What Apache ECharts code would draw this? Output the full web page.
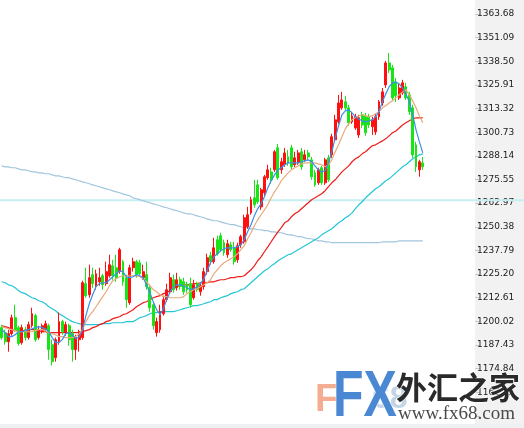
<!DOCTYPE html>
<html>
<head>
<meta charset="utf-8">
<script src="https://cdn.jsdelivr.net/npm/echarts@6/dist/echarts.min.js"></script>
<style>
html, body { margin: 0; padding: 0; background: #fff; }
#chart { width: 524px; height: 428px; }
</style>
</head>
<body>
<div id="chart"></div>
<script>
// price scale labels on the right, top to bottom
const tickLabels = ['1363.68','1351.09','1338.50','1325.91','1313.32','1300.73','1288.14','1275.55',
    '1262.97','1250.38','1237.79','1225.20','1212.61','1200.02','1187.43','1174.84','1162.25'];

// price at the top edge of the window
const scaleMax = 1371.1;

// horizontal price level
const levelPrice = 1264.5;

// candles: [open, close, low, high]
const ohlc = [
    [1196.7,1191.4,1190.3,1198.3],[1194.0,1189.2,1187.6,1195.6],[1189.2,1193.5,1183.9,1195.6],[1193.5,1202.0,1192.4,1203.6],
    [1202.0,1195.6,1194.5,1208.9],[1196.7,1188.2,1187.1,1197.7],[1188.7,1196.7,1187.6,1198.3],[1195.6,1191.4,1189.8,1197.2],
    [1191.4,1198.3,1190.3,1199.9],[1197.7,1204.1,1196.7,1207.3],[1203.1,1190.3,1189.2,1204.1],[1191.4,1195.6,1190.3,1197.7],
    [1194.5,1197.7,1193.5,1198.8],[1195.6,1198.8,1194.5,1200.4],[1197.7,1185.0,1179.6,1198.8],[1187.6,1178.6,1176.5,1190.3],
    [1180.7,1190.3,1178.6,1191.4],[1189.2,1199.9,1187.6,1204.7],[1199.9,1194.5,1192.9,1200.9],[1194.0,1198.3,1192.4,1199.9],
    [1197.7,1190.3,1187.1,1198.8],[1193.5,1185.0,1178.6,1195.6],[1185.0,1191.4,1179.6,1192.9],[1190.3,1194.5,1183.9,1195.6],
    [1191.4,1220.6,1190.3,1221.7],[1220.1,1213.7,1212.6,1228.6],[1214.2,1223.3,1212.6,1230.2],[1224.9,1220.1,1217.9,1228.6],
    [1219.0,1225.4,1216.9,1227.5],[1221.1,1223.3,1219.0,1228.6],[1224.3,1219.5,1216.9,1225.4],[1220.1,1226.5,1219.0,1231.8],
    [1224.3,1230.2,1223.3,1235.5],[1229.6,1224.3,1222.2,1232.8],[1228.6,1223.3,1221.1,1235.5],[1226.5,1238.2,1225.4,1239.2],
    [1231.8,1221.1,1219.0,1232.8],[1223.3,1211.6,1207.3,1224.9],[1210.0,1228.6,1208.9,1230.2],[1228.6,1231.8,1226.5,1233.9],
    [1231.8,1224.9,1223.3,1232.8],[1231.2,1225.4,1224.3,1232.8],[1223.3,1226.5,1222.2,1230.2],[1224.9,1218.5,1216.9,1231.8],
    [1217.9,1207.3,1205.2,1219.0],[1208.9,1197.7,1195.6,1210.0],[1194.0,1199.9,1191.9,1202.0],[1195.6,1205.2,1194.0,1208.9],
    [1204.1,1211.6,1203.1,1213.7],[1211.6,1216.9,1210.5,1220.1],[1215.8,1223.3,1214.8,1225.9],[1222.2,1216.9,1215.3,1224.9],
    [1217.9,1222.2,1216.4,1225.9],[1222.2,1218.5,1216.9,1223.8],[1221.1,1215.8,1214.2,1223.3],[1219.5,1216.9,1215.3,1221.1],
    [1220.1,1208.9,1207.3,1223.3],[1212.6,1219.5,1211.6,1222.2],[1220.1,1216.9,1215.8,1221.1],[1215.8,1219.0,1213.7,1220.6],
    [1218.5,1226.5,1216.9,1228.6],[1226.5,1233.9,1224.9,1236.0],[1235.0,1231.8,1230.2,1237.1],[1231.8,1239.2,1230.7,1244.5],
    [1243.5,1236.0,1235.0,1245.6],[1245.6,1238.2,1237.1,1247.2],[1241.9,1236.6,1235.0,1243.5],[1235.5,1241.4,1233.9,1243.5],
    [1240.8,1238.2,1237.1,1242.4],[1239.2,1231.8,1230.2,1242.4],[1232.8,1240.3,1231.2,1241.9],[1240.8,1245.1,1239.2,1246.1],
    [1242.4,1255.2,1241.4,1256.8],[1250.4,1256.8,1249.3,1261.0],[1257.8,1264.8,1256.8,1266.4],[1265.8,1262.1,1260.5,1275.4],
    [1272.7,1263.7,1262.6,1275.4],[1261.0,1270.1,1259.4,1271.1],[1268.5,1277.0,1266.9,1278.0],[1276.5,1280.7,1275.4,1283.4],
    [1279.6,1275.4,1273.3,1281.8],[1280.7,1290.3,1279.6,1291.3],[1292.4,1276.5,1275.4,1294.5],[1280.7,1285.0,1278.6,1287.1],
    [1283.4,1289.7,1282.3,1292.4],[1287.6,1284.4,1282.8,1291.3],[1292.4,1282.3,1280.7,1294.0],[1283.4,1287.1,1282.3,1290.3],
    [1284.4,1289.7,1283.4,1291.3],[1290.3,1282.3,1280.7,1292.4],[1286.0,1288.7,1285.0,1291.3],[1289.7,1287.6,1286.0,1291.3],
    [1286.0,1277.0,1275.4,1287.6],[1279.1,1272.7,1271.7,1280.7],[1273.8,1280.7,1272.7,1281.8],[1281.8,1273.8,1272.7,1282.8],
    [1273.8,1286.0,1272.7,1287.1],[1287.1,1275.4,1274.3,1288.7],[1288.7,1298.3,1287.1,1299.9],[1296.7,1307.3,1295.6,1310.0],
    [1306.2,1316.3,1305.2,1320.6],[1313.7,1317.9,1312.6,1322.2],[1316.9,1313.7,1312.6,1320.1],[1313.7,1305.7,1304.1,1315.3],
    [1306.2,1309.4,1305.2,1311.6],[1303.0,1308.9,1302.0,1310.5],[1299.3,1308.4,1297.7,1310.0],[1310.0,1304.6,1303.0,1311.6],
    [1309.4,1300.4,1298.8,1311.0],[1308.9,1304.6,1303.0,1310.5],[1303.6,1307.3,1299.3,1308.9],[1300.9,1308.9,1299.3,1310.5],
    [1308.9,1316.9,1307.3,1317.9],[1316.3,1322.2,1314.8,1324.3],[1325.9,1337.6,1324.3,1338.7],[1337.6,1333.9,1332.3,1342.9],
    [1335.0,1319.0,1317.9,1336.6],[1327.5,1320.1,1316.9,1329.6],[1319.0,1324.3,1317.9,1326.5],[1321.7,1327.0,1320.6,1328.6],
    [1324.9,1319.0,1317.9,1327.0],[1320.6,1311.6,1310.0,1322.2],[1313.7,1288.7,1287.1,1315.3],[1294.0,1282.3,1279.6,1295.6],
    [1280.7,1285.0,1277.0,1286.0],[1284.4,1282.3,1280.7,1287.6]
];

// moving averages, read per candle
const ma5 = [1195.6,1194.0,1191.9,1191.9,1192.9,1194.5,1194.5,1195.1,1195.6,1196.1,
    1196.7,1197.2,1196.7,1196.1,1194.5,1191.4,1188.7,1188.7,1190.3,1193.5,
    1194.0,1192.9,1190.8,1191.9,1195.6,1203.1,1209.4,1214.2,1218.5,1220.1,
    1220.6,1220.6,1222.2,1223.8,1225.4,1227.0,1226.5,1223.8,1223.3,1223.8,
    1224.9,1224.3,1223.3,1219.5,1215.3,1210.5,1206.2,1203.6,1206.8,1211.6,
    1215.8,1218.5,1219.5,1219.5,1219.0,1217.9,1216.9,1217.4,1218.5,1220.1,
    1222.7,1227.0,1231.2,1234.4,1236.0,1237.6,1238.7,1239.2,1239.2,1239.2,
    1239.8,1240.8,1243.5,1247.7,1251.5,1256.2,1260.0,1262.6,1266.4,1271.1,
    1274.9,1278.0,1280.7,1281.8,1283.4,1284.4,1284.4,1284.4,1284.4,1285.0,
    1285.5,1286.0,1285.0,1282.8,1280.7,1279.6,1280.2,1284.4,1290.3,1297.7,
    1304.1,1310.0,1312.1,1312.6,1311.0,1308.9,1307.8,1306.8,1306.2,1306.8,
    1307.3,1308.9,1311.6,1316.9,1321.1,1324.9,1327.0,1327.5,1326.5,1324.3,
    1321.1,1316.9,1310.0,1302.0,1295.6,1289.7];

const ma10 = [1197.2,1196.7,1196.1,1195.6,1195.1,1194.5,1194.5,1194.5,1194.5,1194.5,
    1195.1,1195.6,1195.6,1195.1,1194.0,1193.5,1192.9,1191.9,1191.9,1191.4,
    1191.4,1191.4,1191.9,1193.5,1195.6,1199.9,1203.1,1205.2,1207.8,1210.5,
    1213.2,1215.8,1219.0,1221.7,1222.7,1223.8,1224.3,1224.3,1224.3,1224.3,
    1224.3,1223.8,1222.7,1221.1,1219.0,1216.9,1215.8,1214.2,1213.2,1213.2,
    1212.6,1212.6,1212.6,1212.6,1213.2,1214.8,1215.8,1216.9,1217.4,1218.5,
    1219.5,1220.6,1222.2,1225.4,1227.5,1229.6,1231.2,1232.3,1233.4,1234.4,
    1236.0,1238.2,1240.3,1244.0,1247.2,1250.9,1254.1,1256.8,1259.4,1262.1,
    1265.8,1269.0,1271.7,1274.9,1277.0,1279.1,1280.7,1281.8,1282.8,1283.9,
    1284.4,1284.4,1284.4,1284.4,1283.9,1283.4,1282.3,1283.4,1286.0,1290.3,
    1294.0,1298.3,1302.5,1305.2,1307.3,1308.4,1309.4,1310.0,1309.4,1308.9,
    1309.4,1310.5,1311.6,1313.7,1314.8,1316.3,1317.4,1319.0,1320.6,1322.2,
    1323.3,1320.6,1317.4,1313.7,1309.4,1305.7];

const ma30 = [1197.7,1197.2,1196.7,1195.6,1195.1,1195.1,1195.1,1195.1,1195.6,1195.6,
    1195.6,1195.1,1194.5,1194.5,1194.0,1194.0,1194.0,1194.0,1194.0,1194.0,
    1194.0,1194.0,1194.0,1194.0,1194.5,1195.1,1195.6,1196.7,1197.2,1198.3,
    1198.8,1199.9,1200.4,1201.5,1202.0,1202.5,1203.6,1204.1,1205.2,1206.2,
    1207.8,1208.9,1210.0,1210.5,1211.6,1212.6,1213.2,1213.7,1214.8,1215.3,
    1216.4,1217.4,1218.5,1219.0,1219.5,1219.5,1219.5,1220.1,1220.1,1220.6,
    1220.6,1220.6,1221.1,1221.1,1221.7,1222.2,1222.2,1222.7,1223.3,1223.3,
    1223.8,1223.8,1224.3,1225.9,1227.5,1229.6,1232.3,1234.4,1237.1,1239.7,
    1242.4,1245.1,1247.7,1249.9,1252.5,1253.6,1255.7,1257.3,1258.4,1260.0,
    1261.6,1263.2,1264.8,1265.8,1266.9,1268.0,1269.6,1271.7,1273.8,1275.4,
    1277.5,1279.6,1281.2,1282.8,1285.0,1286.6,1287.6,1289.2,1290.3,1291.9,
    1293.5,1294.0,1295.1,1296.1,1297.2,1298.8,1300.4,1301.4,1303.0,1304.6,
    1305.7,1306.8,1307.8,1308.4,1308.4,1308.4];

const ma60 = [1221.1,1220.6,1219.5,1219.0,1217.9,1216.4,1215.3,1214.8,1213.7,1212.6,
    1212.1,1211.0,1210.5,1209.4,1207.8,1206.8,1205.7,1204.1,1203.1,1202.0,
    1200.9,1199.9,1199.3,1198.8,1198.3,1198.3,1198.3,1198.3,1198.3,1198.3,
    1198.8,1198.8,1198.8,1199.3,1199.3,1199.3,1199.3,1199.9,1199.9,1199.9,
    1200.9,1202.0,1202.5,1203.1,1204.1,1204.7,1204.7,1205.2,1205.2,1205.2,
    1205.2,1205.2,1205.7,1206.2,1206.8,1207.3,1207.8,1208.4,1208.4,1208.9,
    1209.4,1210.0,1210.5,1211.6,1211.6,1212.6,1213.2,1213.7,1214.8,1215.3,
    1215.8,1216.9,1217.4,1219.0,1220.6,1222.2,1223.8,1225.4,1227.0,1228.0,
    1229.6,1230.7,1232.3,1233.4,1234.4,1235.5,1236.0,1237.1,1238.2,1239.2,
    1240.3,1241.4,1242.4,1243.5,1244.5,1246.1,1247.2,1248.3,1249.3,1250.9,
    1252.5,1253.6,1255.2,1256.2,1257.8,1260.0,1262.1,1263.7,1265.8,1267.4,
    1269.0,1270.6,1271.7,1273.3,1274.9,1275.9,1277.5,1279.1,1280.7,1282.3,
    1283.4,1285.0,1286.6,1287.6,1288.7,1289.2];

const ma200 = [1282.8,1282.3,1282.3,1281.8,1281.8,1281.2,1280.7,1280.7,1280.2,1279.6,
    1279.6,1279.1,1279.1,1278.6,1278.6,1278.0,1277.5,1277.5,1277.0,1276.5,
    1276.5,1275.9,1275.4,1274.9,1274.3,1273.8,1273.3,1272.7,1272.2,1271.7,
    1271.1,1270.6,1270.1,1269.5,1269.0,1268.5,1267.9,1267.4,1266.9,1265.8,
    1265.3,1264.8,1264.2,1263.7,1263.2,1262.6,1262.1,1261.6,1261.0,1260.5,
    1260.0,1259.4,1258.9,1258.4,1257.8,1257.3,1257.3,1256.8,1256.2,1255.7,
    1255.2,1254.6,1254.1,1253.6,1253.6,1253.0,1252.5,1252.0,1251.5,1251.5,
    1250.9,1250.4,1249.9,1249.9,1249.3,1249.3,1248.8,1248.8,1248.3,1248.3,
    1247.7,1247.7,1247.2,1247.2,1246.7,1246.1,1246.1,1245.6,1245.1,1245.1,
    1244.5,1244.0,1244.0,1243.5,1242.9,1242.9,1242.4,1242.4,1241.9,1241.9,
    1241.9,1241.9,1241.9,1241.9,1241.9,1241.9,1241.9,1241.9,1241.9,1241.9,
    1241.9,1241.9,1241.9,1242.4,1242.4,1242.4,1242.4,1242.4,1242.9,1242.9,
    1242.9,1242.9,1242.9,1242.9,1242.9,1242.9];

// empty slots after the last bar leave the gap before the price scale
const slotCount = 141;
const slots = Array.from({length: slotCount}, (_, i) => String(i));

const step = (parseFloat(tickLabels[0]) - parseFloat(tickLabels[tickLabels.length - 1])) / (tickLabels.length - 1);
const scaleTop = parseFloat(tickLabels[0]);
const scaleMin = parseFloat(tickLabels[tickLabels.length - 1]) - step;

function maLine(name, data, color, z){
    return {
        name: name,
        type: 'line',
        data: data,
        symbol: 'none',
        silent: true,
        z: z,
        lineStyle: {color: color, width: 1.2}
    };
}

const chart = echarts.init(document.getElementById('chart'));
chart.setOption({
    animation: false,
    backgroundColor: '#ffffff',
    grid: {left: 0, right: 49, top: 0, bottom: 12},
    xAxis: {
        type: 'category',
        data: slots,
        boundaryGap: true,
        show: false
    },
    yAxis: {
        type: 'value',
        position: 'right',
        min: scaleMin,
        max: scaleMax,
        interval: step,
        axisLine: {show: false},
        axisTick: {show: true, length: 5, lineStyle: {color: '#c8c8c8'}},
        splitLine: {show: false},
        axisLabel: {
            margin: 2,
            color: '#1a1a1a',
            fontFamily: 'DejaVu Sans',
            fontSize: 9,
            showMaxLabel: false,
            formatter: v => tickLabels[Math.round((scaleTop - v) / step)] || ''
        }
    },
    series: [
        maLine('MA200', ma200, '#9fc6de', 3),
        maLine('MA60', ma60, '#22c6d6', 4),
        maLine('MA30', ma30, '#ee1c1c', 5),
        {
            name: 'K',
            type: 'candlestick',
            data: ohlc,
            barWidth: 2.4,
            z: 6,
            itemStyle: {
                color: '#ff1010', color0: '#18e418',
                borderColor: '#ff1010', borderColor0: '#18e418',
                borderWidth: 1
            }
        },
        maLine('MA10', ma10, '#e8aa7a', 7),
        maLine('MA5', ma5, '#3b8fe8', 8)
    ]
});

// level line goes through the y scale
const levelY = chart.convertToPixel({yAxisIndex: 0}, levelPrice);
chart.setOption({
    graphic: [
        {type: 'rect', z: -1, silent: true, shape: {x: 475, y: 0, width: 49, height: 428}, style: {fill: '#f2f2f2'}},
        {type: 'rect', z: -1, silent: true, shape: {x: 0, y: 424, width: 524, height: 4}, style: {fill: '#eef1f1'}},
        {type: 'line', z: 1, silent: true, shape: {x1: 0, y1: levelY, x2: 524, y2: levelY}, style: {stroke: '#c6eff1', lineWidth: 2}},
        // watermark logo
        {type: 'text', z: 20, silent: true, x: 315, y: 382,
            style: {text: 'F', font: 'bold 38px "Liberation Sans"', fill: '#f4a486', opacity: 0.9, verticalAlign: 'top'}},
        {type: 'text', z: 20, silent: true, x: 372, y: 383,
            style: {text: '68', font: 'bold 32px "Liberation Sans"', fill: '#b9cde0', opacity: 0.85, verticalAlign: 'top'}},
        {type: 'text', z: 21, silent: true, x: 333, y: 366, scaleY: 1.28,
            style: {text: 'FX', font: 'bold 50px "Liberation Sans"', verticalAlign: 'top',
                fill: '#4a88d4', stroke: '#ffffff', lineWidth: 1}},
        {type: 'text', z: 22, silent: true, x: 396, y: 372,
            style: {text: '外汇之家', font: 'bold 31px "Noto Sans CJK SC"', fill: '#2a2a2a', stroke: '#ffffff', lineWidth: 1, verticalAlign: 'top'}},
        {type: 'text', z: 22, silent: true, x: 398, y: 405,
            style: {text: 'www.fx68.com', font: '19px "Liberation Serif"', fill: '#4a4a4a', verticalAlign: 'top'}}
    ]
});
</script>
</body>
</html>
